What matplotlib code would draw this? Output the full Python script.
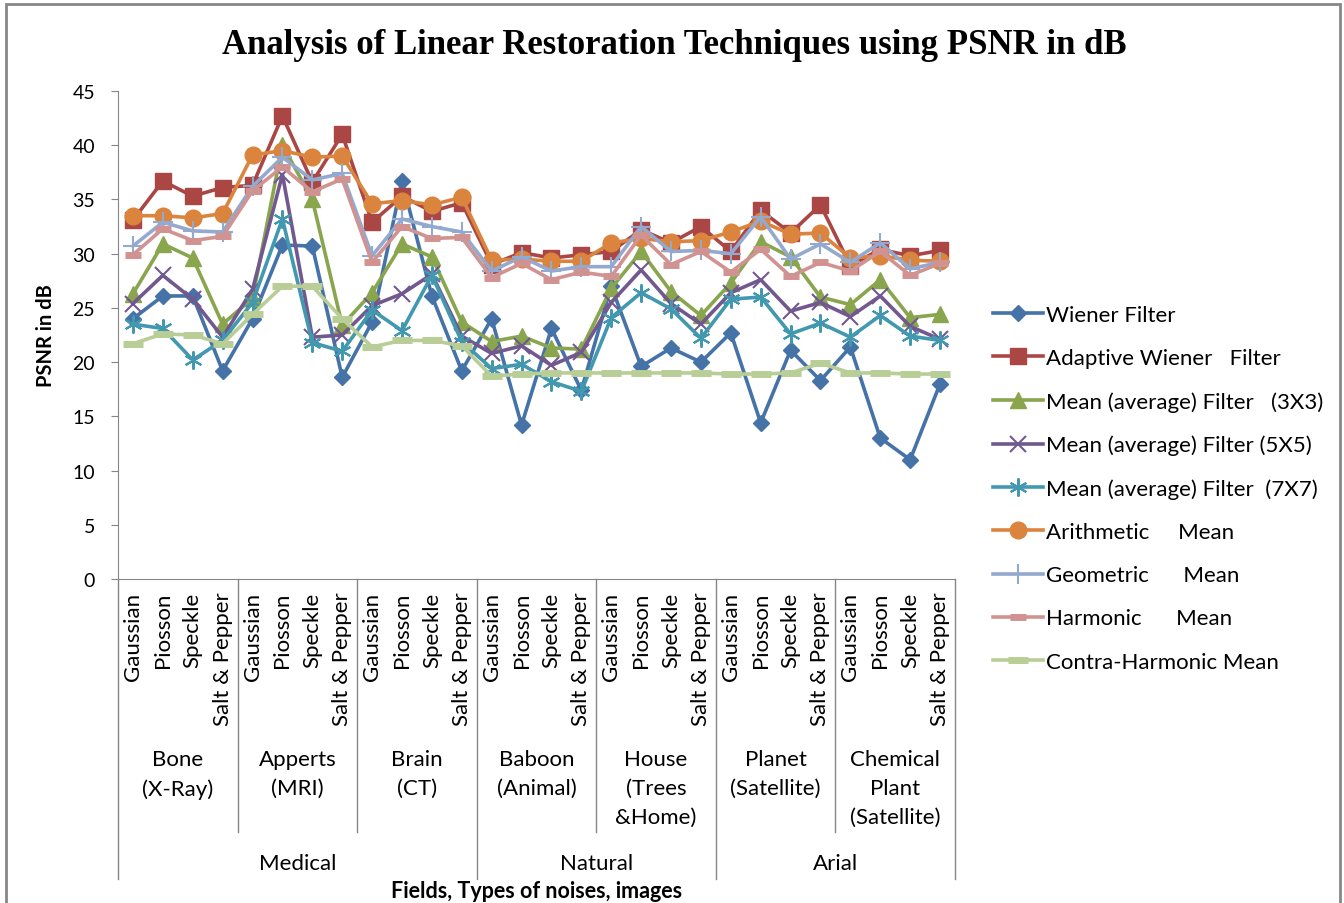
"""Linear restoration techniques compared by PSNR (dB)."""
import matplotlib

matplotlib.use("Agg")
import matplotlib.pyplot as plt  # noqa: E402
from matplotlib.patches import Rectangle  # noqa: E402

plt.rcParams["font.family"] = ["Lato", "DejaVu Sans"]

noises = ["Gaussian", "Piosson", "Speckle", "Salt & Pepper"]
images = ["Bone\n(X-Ray)", "Apperts\n(MRI)", "Brain\n(CT)", "Baboon\n(Animal)",
          "House\n(Trees\n&Home)", "Planet\n(Satellite)", "Chemical\nPlant\n(Satellite)"]
fields = ["Medical", "Natural", "Arial"]
field_sizes = [3, 2, 2]  # images per field

wiener = [24.0, 26.1, 26.1, 19.2, 24.0, 30.8, 30.7, 18.6, 23.7, 36.7, 26.1, 19.2, 24.0, 14.2,
          23.1, 17.4, 27.0, 19.6, 21.3, 20.0, 22.7, 14.4, 21.1, 18.3, 21.4, 13.0, 11.0, 18.0]
adaptive = [33.1, 36.7, 35.3, 36.1, 36.3, 42.7, 36.6, 41.0, 32.9, 35.3, 33.9, 34.7, 29.0, 30.1,
            29.6, 29.9, 30.2, 32.2, 31.0, 32.5, 30.2, 34.0, 31.9, 34.5, 28.9, 30.4, 29.8, 30.3]
mean3 = [26.3, 30.9, 29.6, 23.5, 25.9, 40.0, 35.0, 23.4, 26.4, 30.9, 29.7, 23.7, 21.9, 22.4,
         21.3, 21.2, 26.8, 30.2, 26.5, 24.3, 27.3, 31.1, 29.7, 26.0, 25.3, 27.6, 24.1, 24.4]
mean5 = [25.4, 28.0, 25.8, 22.3, 26.7, 37.3, 22.3, 22.5, 25.2, 26.3, 28.1, 22.4, 20.8, 21.5,
         19.7, 20.9, 25.5, 28.5, 25.4, 23.5, 26.4, 27.6, 24.7, 25.5, 24.2, 26.1, 23.3, 22.1]
mean7 = [23.5, 23.1, 20.2, 22.0, 25.5, 33.2, 21.8, 21.0, 24.8, 22.9, 28.0, 21.9, 19.4, 19.8,
         18.2, 17.3, 24.1, 26.4, 24.9, 22.2, 25.8, 26.0, 22.6, 23.6, 22.3, 24.3, 22.4, 22.0]
arith = [33.5, 33.5, 33.3, 33.7, 39.1, 39.5, 38.9, 39.0, 34.6, 34.9, 34.5, 35.2, 29.4, 29.5,
         29.3, 29.3, 31.0, 31.4, 31.1, 31.2, 32.0, 33.0, 31.8, 31.9, 29.6, 29.8, 29.4, 29.3]
geom = [30.7, 32.9, 32.1, 32.0, 36.2, 38.9, 36.8, 37.4, 29.8, 33.2, 32.5, 32.0, 28.4, 29.7,
        28.4, 28.8, 28.8, 32.5, 30.2, 30.3, 30.0, 33.4, 29.5, 30.9, 29.2, 31.0, 28.6, 29.2]
harm = [29.9, 32.3, 31.2, 31.6, 35.8, 38.0, 35.7, 36.9, 29.2, 32.5, 31.4, 31.5, 27.8, 29.1,
        27.6, 28.3, 27.9, 31.7, 29.0, 30.2, 28.3, 30.4, 27.9, 29.2, 28.4, 30.2, 28.0, 29.1]
contra = [21.7, 22.6, 22.5, 21.7, 24.4, 27.0, 27.0, 24.0, 21.4, 22.0, 22.0, 21.5, 18.7, 18.9,
          19.0, 19.0, 19.0, 19.0, 19.0, 19.0, 18.9, 18.9, 19.0, 19.9, 19.0, 19.0, 18.9, 18.9]

series = [
    ("Wiener Filter", wiener, "#4572A7", dict(marker="D", ms=8)),
    ("Adaptive Wiener   Filter", adaptive, "#AA4643", dict(marker="s", ms=11)),
    ("Mean (average) Filter   (3X3)", mean3, "#89A54E", dict(marker="^", ms=12)),
    ("Mean (average) Filter (5X5)", mean5, "#71588F", dict(marker="x", ms=11, mew=1.5)),
    ("Mean (average) Filter  (7X7)", mean7, "#4198AF", dict(marker=(6, 2, 0), ms=13, mew=1.5)),
    ("Arithmetic     Mean", arith, "#DB843D", dict(marker="o", ms=12)),
    ("Geometric      Mean", geom, "#93A9CF", dict(marker="+", ms=14, mew=1.5)),
    ("Harmonic      Mean", harm, "#D19392", dict(marker="_", ms=12, mew=5)),
    ("Contra-Harmonic Mean", contra, "#B9CD96", dict(marker="_", ms=14, mew=5)),
]

GRAY = "#868686"
PX = 0.72  # points per pixel at dpi 100

fig = plt.figure(figsize=(13.44, 9.04), dpi=100)
ax = fig.add_axes([118 / 1344, 1 - 580 / 904, (955 - 118) / 1344, (580 - 92) / 904])

x = list(range(len(wiener)))
for label, vals, color, mk in series:
    ax.plot(x, vals, color=color, lw=2.6, label=label, mfc=color, mec=color, **mk)

ax.set_xlim(-0.5, len(x) - 0.5)
ax.set_ylim(0, 45)
ax.set_yticks(range(0, 46, 5))
ax.tick_params(axis="y", labelsize=14, length=5, color=GRAY, pad=11.5)
for s in ("top", "right"):
    ax.spines[s].set_visible(False)
for s in ("left", "bottom"):
    ax.spines[s].set_color(GRAY)

ax.set_xticks(x)
ax.set_xticklabels(noises * len(images), rotation=90, fontsize=16, va="top")
ax.tick_params(axis="x", length=0, pad=9)

# multi-level category axis
tr = ax.get_xaxis_transform()
h = 580 - 92
for i, name in enumerate(images):
    cx = i * 4 + 1.5
    ax.annotate(name, xy=(cx, 0), xycoords=tr, xytext=(0, -170 * PX), textcoords="offset points",
                ha="center", va="top", fontsize=16, linespacing=1.55, annotation_clip=False)
start = 0
bounds = [-0.5]
for name, n in zip(fields, field_sizes):
    lo = start * 4 - 0.5
    hi = (start + n) * 4 - 0.5
    ax.annotate(name, xy=((lo + hi) / 2, 0), xycoords=tr, xytext=(0, -284 * PX),
                textcoords="offset points", ha="center", va="center", fontsize=16,
                annotation_clip=False)
    for k in range(1, n):
        b = (start + k) * 4 - 0.5
        ax.plot([b, b], [0, -253 / h], transform=tr, color=GRAY, lw=1, clip_on=False)
    bounds.append(hi)
    start += n
for b in bounds:
    ax.plot([b, b], [0, -300 / h], transform=tr, color=GRAY, lw=1, clip_on=False)

ax.annotate("Fields, Types of noises, images", xy=(0.5, 0), xycoords="axes fraction",
            xytext=(0, -311 * PX), textcoords="offset points", ha="center", va="center",
            fontsize=15.5, fontweight="bold", annotation_clip=False)
ax.set_ylabel("PSNR in dB", fontsize=14.5, fontweight="bold", labelpad=12)

fig.text(674 / 1344, 1 - 45 / 904, "Analysis of Linear Restoration Techniques using PSNR in dB",
         ha="center", va="center", fontsize=25, fontweight="bold", family="Liberation Serif")

fig.legend(loc="upper left", bbox_to_anchor=(984 / 1344, 1 - 297 / 904), frameon=False,
           fontsize=16, handlelength=2.25, handletextpad=0.12, labelspacing=1.04,
           borderaxespad=0)

fig.patches.append(Rectangle((6 / 1344, -0.01), 1334 / 1344, 1.01 - 5 / 904,
                             transform=fig.transFigure, fill=False, ec=GRAY, lw=2))

fig.savefig("out.png", dpi=100)
